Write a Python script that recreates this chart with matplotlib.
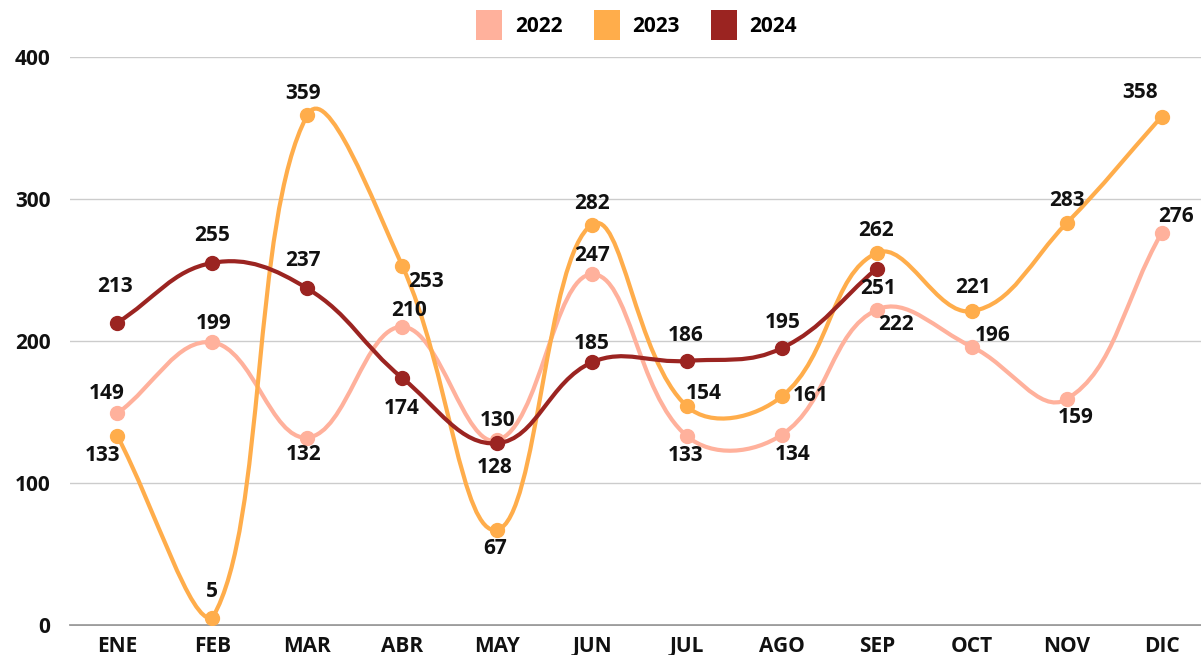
import numpy as np
import matplotlib
matplotlib.use('Agg')
from matplotlib import pyplot as plt
from matplotlib.path import Path
from matplotlib.patches import PathPatch, Patch

months = ['ENE', 'FEB', 'MAR', 'ABR', 'MAY', 'JUN', 'JUL', 'AGO', 'SEP', 'OCT', 'NOV', 'DIC']
v2022 = [149, 199, 132, 210, 130, 247, 133, 134, 222, 196, 159, 276]
v2023 = [133, 5, 359, 253, 67, 282, 154, 161, 262, 221, 283, 358]
v2024 = [213, 255, 237, 174, 128, 185, 186, 195, 251]
years = ['2022', '2023', '2024']
colors = ['#FFB19C', '#FFAD4B', '#9B2421']

# label offsets in pixels (dx, dy up)
off2022 = [(-11, 20), (1, 19), (-4, -17), (7, 16), (0, 20), (0, 19), (-1, -19),
           (11, -20), (19, -15), (21, 11), (9, -18), (14, 17)]
off2023 = [(-15, -19), (0, 26), (-4, 22), (24, -16), (-2, -19), (0, 21), (17, 13),
           (29, 1), (-1, 22), (1, 24), (0, 23), (-21, 24)]
off2024 = [(-2, 36), (0, 27), (-4, 28), (0, -31), (-2, -24), (0, 19), (-1, 25),
           (1, 26), (1, -20)]

plt.rcParams['font.family'] = ['Open Sans', 'DejaVu Sans']
plt.rcParams['font.weight'] = 'bold'

SX, SY = 94.9, 1.42   # pixels per x unit / per y unit, used for spline weights
YMIN, YMAX = 0, 400


def smooth_path(xs, ys, t=0.4):
    # chart.js-like spline: control points weighted by segment lengths
    n = len(xs)
    cps = []
    for i in range(n):
        p0 = (xs[max(i - 1, 0)], ys[max(i - 1, 0)])
        p1 = (xs[i], ys[i])
        p2 = (xs[min(i + 1, n - 1)], ys[min(i + 1, n - 1)])
        d01 = np.hypot((p1[0] - p0[0]) * SX, (p1[1] - p0[1]) * SY)
        d12 = np.hypot((p2[0] - p1[0]) * SX, (p2[1] - p1[1]) * SY)
        s = d01 + d12
        fa = t * d01 / s if s else 0
        fb = t * d12 / s if s else 0
        prev = (p1[0] - fa * (p2[0] - p0[0]), p1[1] - fa * (p2[1] - p0[1]))
        nxt = (p1[0] + fb * (p2[0] - p0[0]), p1[1] + fb * (p2[1] - p0[1]))
        prev = (prev[0], min(max(prev[1], YMIN), YMAX))
        nxt = (nxt[0], min(max(nxt[1], YMIN), YMAX))
        cps.append((prev, nxt))
    verts = [(xs[0], ys[0])]
    codes = [Path.MOVETO]
    for i in range(n - 1):
        verts += [cps[i][1], cps[i + 1][0], (xs[i + 1], ys[i + 1])]
        codes += [Path.CURVE4] * 3
    return Path(verts, codes)


fig = plt.figure(figsize=(12.01, 6.55), dpi=100)
ax = fig.add_axes([70 / 1201, 30 / 655, 1139 / 1201, 568 / 655])

for vals, col, offs, z in [(v2022, colors[0], off2022, 3), (v2023, colors[1], off2023, 4),
                           (v2024, colors[2], off2024, 5)]:
    x = np.arange(len(vals))
    ax.add_patch(PathPatch(smooth_path(x, vals), fill=False, edgecolor=col, lw=3, zorder=z,
                           capstyle='round'))
    ax.plot(x, vals, 'o', color=col, ms=10, zorder=z)
    for xi, v, (dx, dy) in zip(x, vals, offs):
        ax.annotate(str(v), (xi, v), xytext=(dx * 0.72, dy * 0.72), textcoords='offset points',
                    ha='center', va='center', fontsize=15, fontweight='bold', color='#111111',
                    zorder=10)

ax.set_xlim(-0.5, 11.5)
ax.set_ylim(YMIN, YMAX)
ax.set_xticks(range(len(months)))
ax.set_xticklabels(months)
ax.set_yticks([0, 100, 200, 300, 400])
ax.tick_params(axis='both', length=0, labelsize=15, colors='#111111')
ax.tick_params(axis='y', pad=14)
ax.tick_params(axis='x', pad=8)
for lab in ax.get_xticklabels() + ax.get_yticklabels():
    lab.set_fontweight('bold')
ax.grid(True, axis='y', color='#cccccc', lw=1)
ax.set_axisbelow(False)
for s in ['top', 'right', 'left']:
    ax.spines[s].set_visible(False)
ax.spines['bottom'].set_color('#8a8a8a')
ax.spines['bottom'].set_linewidth(1.2)
ax.spines['bottom'].set_zorder(1)

handles = [Patch(facecolor=c, edgecolor='none') for c in colors]
fig.legend(handles, years, loc='center', bbox_to_anchor=(0.53, 0.962), ncol=3, frameon=False,
           prop={'weight': 'bold', 'size': 15}, handlelength=1.25, handleheight=1.8,
           columnspacing=1.5, handletextpad=0.6)

fig.savefig('out.png', dpi=100)
